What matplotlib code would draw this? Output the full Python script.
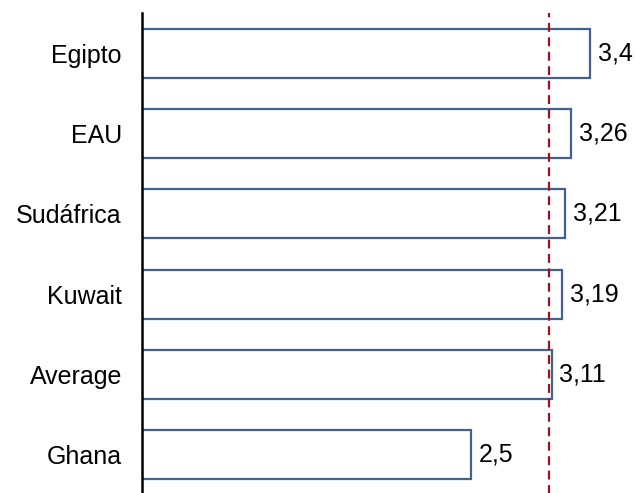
import matplotlib
matplotlib.use('Agg')

import matplotlib.pyplot as plt

# Data
countries = ['Egipto', 'EAU', 'Sudáfrica', 'Kuwait', 'Average', 'Ghana']
scores = [3.4, 3.26, 3.21, 3.19, 3.11, 2.5]
value_labels = ['3,4', '3,26', '3,21', '3,19', '3,11', '2,5']
avg_line = 3.09

plt.rcParams['font.family'] = ['Liberation Sans', 'DejaVu Sans']

fig = plt.figure(figsize=(6.35, 4.93), dpi=100)
ax = fig.add_axes([142 / 635, -2 / 493, 478 / 635, 482 / 493])

pos = list(range(len(countries)))[::-1]
ax.barh(pos, scores, height=0.61, color='white', edgecolor='#41628F', linewidth=1.6)

for y, v, lab in zip(pos, scores, value_labels):
    ax.text(v + 0.06, y, lab, va='center', ha='left', fontsize=18)

ax.axvline(avg_line, color='#A01020', linestyle=(0, (4, 2.5)), linewidth=1.6)

ax.set_xlim(0, 3.63)
ax.set_ylim(-0.5, 5.5)
ax.set_yticks(pos)
ax.set_yticklabels(countries, fontsize=18)
ax.tick_params(axis='y', length=0, pad=14.5)
ax.set_xticks([])

for s in ['top', 'right', 'bottom']:
    ax.spines[s].set_visible(False)
ax.spines['left'].set_linewidth(1.8)
ax.spines['left'].set_color('black')

plt.savefig('out.png', dpi=100)
